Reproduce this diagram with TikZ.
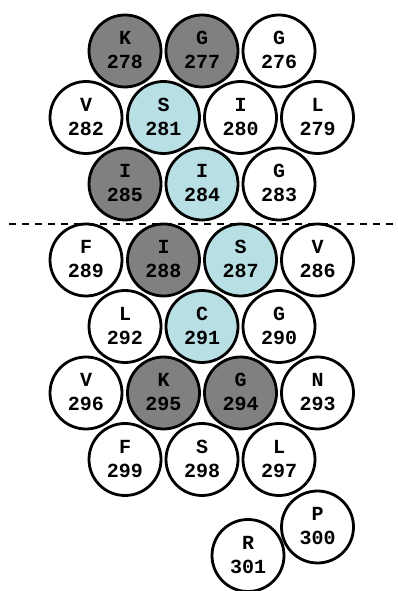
\documentclass[tikz,border=0pt]{standalone}
\usepackage{fontspec}
\setmonofont{Liberation Mono}
\definecolor{resgray}{RGB}{128,128,128}
\definecolor{resblue}{RGB}{184,224,228}
\tikzset{
  res/.style={circle, draw=black, line width=2.8pt, minimum size=72pt, inner sep=0pt, fill=white},
  dk/.style={res, fill=resgray},
  lb/.style={res, fill=resblue},
  txt/.style={anchor=base, inner sep=0pt, font=\fontsize{20}{24}\selectfont\ttfamily\bfseries},
}
\newcommand{\resid}[5]{%
  \node[#1] (r#5) at (#2,#3) {};
  \node[txt] (a#5) at ($(r#5.center)+(0,6)$) {#4};
  \node[txt] (n#5) at ($(r#5.center)+(0,-18)$) {#5};
}
\usetikzlibrary{calc}
\begin{document}
\begin{tikzpicture}[x=1pt,y=1pt]
\useasboundingbox (0,0) rectangle (398,591);
\coordinate (dl) at (9,367);
\coordinate (dr) at (398,367);
\draw[line width=2pt, dash pattern=on 7pt off 6pt] (dl) -- (dr);
% row 1
\resid{dk}{125}{540}{K}{278}
\resid{dk}{202}{540}{G}{277}
\resid{res}{279}{540}{G}{276}
% row 2
\resid{res}{86}{473.5}{V}{282}
\resid{lb}{163.5}{473.5}{S}{281}
\resid{res}{240.5}{473.5}{I}{280}
\resid{res}{317.5}{473.5}{L}{279}
% row 3
\resid{dk}{125}{407}{I}{285}
\resid{lb}{202}{407}{I}{284}
\resid{res}{279}{407}{G}{283}
% row 4
\resid{res}{86}{331}{F}{289}
\resid{dk}{163.5}{331}{I}{288}
\resid{lb}{240.5}{331}{S}{287}
\resid{res}{317.5}{331}{V}{286}
% row 5
\resid{res}{125}{264.5}{L}{292}
\resid{lb}{202}{264.5}{C}{291}
\resid{res}{279}{264.5}{G}{290}
% row 6
\resid{res}{86}{198}{V}{296}
\resid{dk}{163.5}{198}{K}{295}
\resid{dk}{240.5}{198}{G}{294}
\resid{res}{317.5}{198}{N}{293}
% row 7
\resid{res}{125}{131.5}{F}{299}
\resid{res}{202}{131.5}{S}{298}
\resid{res}{279}{131.5}{L}{297}
% tail
\resid{res}{317.5}{64}{P}{300}
\resid{res}{248}{35.5}{R}{301}
\end{tikzpicture}
\end{document}
